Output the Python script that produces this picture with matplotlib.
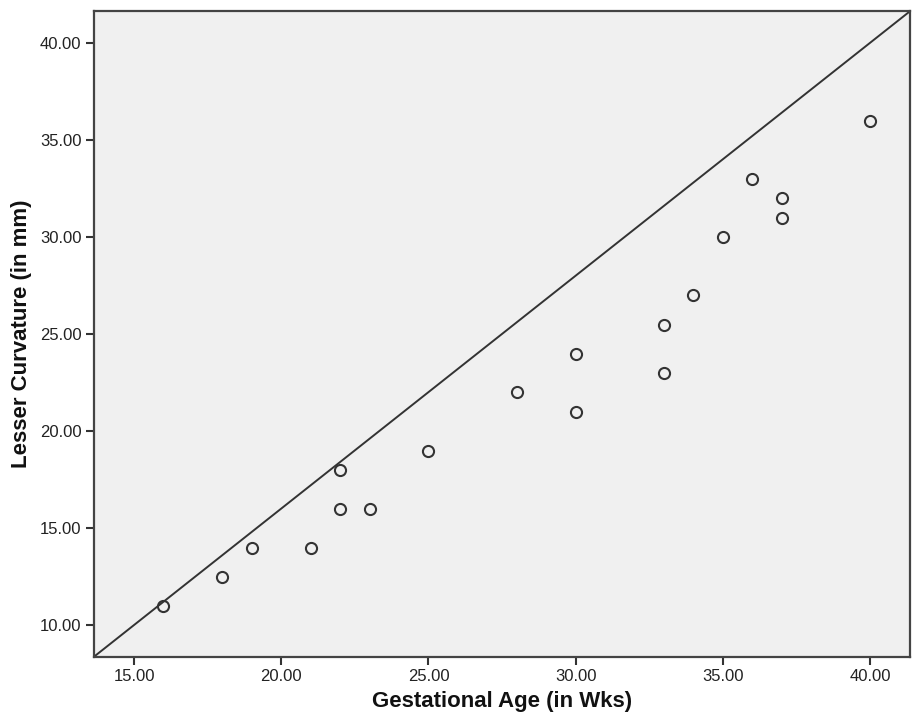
import matplotlib
matplotlib.use("Agg")
import matplotlib.pyplot as plt
from matplotlib.ticker import FormatStrFormatter

# gestational age (weeks) vs lesser curvature (mm)
gest_age = [16, 18, 19, 21, 22, 22, 23, 25, 28, 30, 30, 33, 33, 34, 35, 36, 37, 37, 40]
lesser_curv = [11, 12.5, 14, 14, 16, 18, 16, 19, 22, 21, 24, 23, 25.5, 27, 30, 33, 31, 32, 36]

x_ticks = [15, 20, 25, 30, 35, 40]
y_ticks = [10, 15, 20, 25, 30, 35, 40]

plt.rcParams['font.family'] = ['Liberation Sans', 'DejaVu Sans']

fig = plt.figure(figsize=(9.17, 7.27), dpi=100)
ax = fig.add_axes([0.1025, 0.0967, 0.89, 0.888])
ax.set_facecolor('#f0f0f0')

ax.plot(gest_age, lesser_curv, linestyle='none', marker='o', markersize=8,
        markerfacecolor='none', markeredgecolor='#333333', markeredgewidth=1.5)

# reference line corner to corner
ax.plot([0, 1], [0, 1], transform=ax.transAxes, color='#333333', lw=1.4)

ax.set_xlim(13.64, 41.36)
ax.set_ylim(8.38, 41.65)
ax.set_xticks(x_ticks)
ax.set_yticks(y_ticks)
ax.xaxis.set_major_formatter(FormatStrFormatter('%.2f'))
ax.yaxis.set_major_formatter(FormatStrFormatter('%.2f'))

for s in ax.spines.values():
    s.set_color('#444444')
    s.set_linewidth(1.6)

ax.tick_params(direction='out', length=6, width=1.5, color='#333333',
               labelsize=12, labelcolor='#222222', pad=3)

ax.set_xlabel('Gestational Age (in Wks)', fontsize=16, fontweight='bold',
              color='#111111', labelpad=5)
ax.set_ylabel('Lesser Curvature (in mm)', fontsize=16, fontweight='bold',
              color='#111111', labelpad=6)

fig.savefig('out.png', dpi=100, facecolor='white')
